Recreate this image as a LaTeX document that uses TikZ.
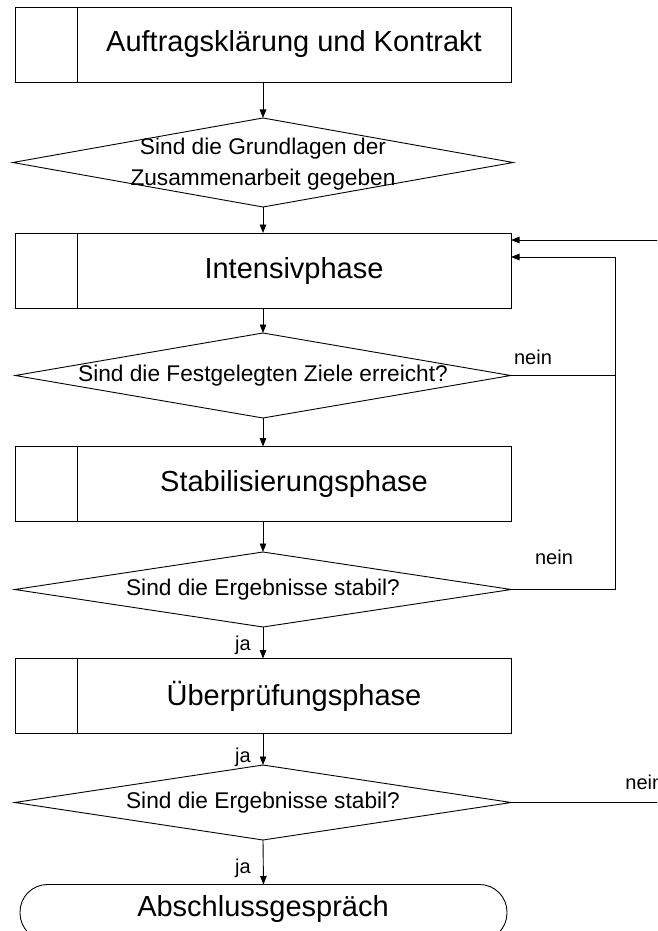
\documentclass[tikz,border=0pt]{standalone}
\usepackage{fontspec}
\setmainfont{Liberation Sans}
\usetikzlibrary{arrows.meta,calc,shapes.geometric}
\begin{document}
\begin{tikzpicture}[x=1pt,y=-1pt,
  line width=0.9pt,
  procbox/.style={draw, rectangle, minimum width=496pt, minimum height=75pt, inner sep=0pt, outer sep=0pt},
  boxtext/.style={font=\fontsize{29}{34}\selectfont, inner sep=0pt},
  decision/.style={draw, diamond, inner sep=0pt, outer sep=0pt},
  dectext/.style={font=\fontsize{22.7}{31}\selectfont, align=center, inner sep=0pt},
  term/.style={draw, rectangle, rounded corners=27.5pt, minimum width=487pt, minimum height=56pt, inner sep=0pt, outer sep=0pt},
  lbl/.style={font=\fontsize{20}{24}\selectfont, inner sep=0pt},
  arr/.style={-{Triangle[length=8.5pt,width=6.5pt]}},
]
\useasboundingbox (0,0) rectangle (657,931);
\clip (0,0) rectangle (657,931);
\fill[white] (0,0) rectangle (657,931);

% process boxes
\node[procbox] (b1) at (263,44.5) {};
\node[procbox] (b2) at (263,270.5) {};
\node[procbox] (b3) at (263,484) {};
\node[procbox] (b4) at (263,696) {};
\foreach \b in {b1,b2,b3,b4}{
  \draw ($(\b.north west)+(62,0)$) -- ($(\b.south west)+(62,0)$);
}
\node[boxtext] (b1t) at ($(b1.center)+(31,0)$) {Auftragsklärung und Kontrakt};
\node[boxtext] (b2t) at ($(b2.center)+(31,0)$) {Intensivphase};
\node[boxtext] (b3t) at ($(b3.center)+(31,0)$) {Stabilisierungsphase};
\node[boxtext] (b4t) at ($(b4.center)+(31,0)$) {Überprüfungsphase};

% decisions
\node[decision, minimum width=500.4pt, minimum height=89pt] (d1) at (263,162.5) {};
\node[decision, minimum width=495.5pt, minimum height=85pt] (d2) at (263,375.5) {};
\node[decision, minimum width=496.5pt, minimum height=75pt] (d3) at (263,589.5) {};
\node[decision, minimum width=496.5pt, minimum height=75pt] (d4) at (263,802.5) {};
\node[dectext] (d1t) at ($(d1.center)+(0,1.5)$) {Sind die Grundlagen der\\Zusammenarbeit gegeben};
\node[dectext] (d2t) at (d2.center) {Sind die Festgelegten Ziele erreicht?};
\node[dectext] (d3t) at (d3.center) {Sind die Ergebnisse stabil?};
\node[dectext] (d4t) at (d4.center) {Sind die Ergebnisse stabil?};

% terminal
\node[term] (t) at (263.5,912.5) {};
\node[boxtext] (tt) at (263,909) {Abschlussgespräch};

% main flow
\draw[arr] (b1.south) -- (d1.north);
\draw[arr] (d1.south) -- (b2.north);
\draw[arr] (b2.south) -- (d2.north);
\draw[arr] (d2.south) -- (b3.north);
\draw[arr] (b3.south) -- (d3.north);
\draw[arr] (d3.south) -- (b4.north);
\draw[arr] (b4.south) -- (d4.north);
\draw[arr] (d4.south) -- (t.north);

% labels
\node[lbl] (ja1) at (243,645) {ja};
\node[lbl] (ja2) at (243,757) {ja};
\node[lbl] (ja3) at (243,868) {ja};
\node[lbl] (n1) at (533,357) {nein};
\node[lbl] (n2) at (554,557) {nein};
\node[lbl, anchor=west] (n3) at (625,782) {nein};

% feedback loops
\coordinate (fb) at (615,257);
\coordinate (offin) at (680,240);
\draw[arr] (d3.east) -| (fb) -- (b2.east |- fb);
\draw (d2.east) -- (d2.east -| fb);
\draw[arr] (offin) -- (b2.east |- offin);
\draw (d4.east) -- (d4.east -| offin);
\end{tikzpicture}
\end{document}
